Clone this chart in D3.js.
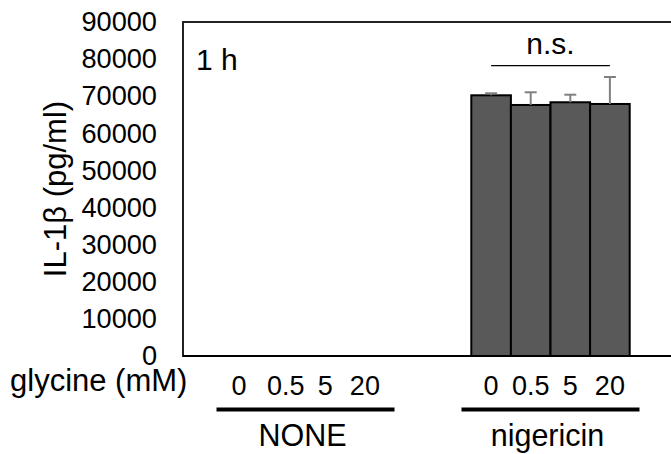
<!DOCTYPE html>
<html>
<head>
<meta charset="utf-8">
<script src="https://cdn.jsdelivr.net/npm/d3@7"></script>
<style>
  html, body { margin: 0; padding: 0; background: #fff; }
  svg { display: block; font-family: Arial, "Liberation Sans", sans-serif; }
</style>
</head>
<body>
<svg id="chart" width="671" height="454"></svg>
<script>
// ---- data ----
const treatments = ["NONE", "nigericin"];
const doses = ["0", "0.5", "5", "20"];
const noneValues = [0, 0, 0, 0];
const noneErrors = [0, 0, 0, 0];
const nigericinValues = [70250, 67640, 68370, 67910];
const nigericinErrors = [540, 3420, 2040, 7270];
const yTicks = [0, 10000, 20000, 30000, 40000, 50000, 60000, 70000, 80000, 90000];
const yTitle = "IL-1β (pg/ml)";
const xTitle = "glycine (mM)";
const timeLabel = "1 h";
const sigLabel = "n.s.";

const rows = [];
treatments.forEach((t, ti) => {
  const vals = ti === 0 ? noneValues : nigericinValues;
  const errs = ti === 0 ? noneErrors : nigericinErrors;
  doses.forEach((d, di) => rows.push({ t, d, v: vals[di], e: errs[di] }));
});

// ---- layout ----
const svg = d3.select("#chart");
const pL = 183, pT = 22, pB = 356, pR = 673;

const y = d3.scaleLinear().domain([0, 90000]).range([pB, pT]);
const x0 = d3.scaleBand().domain(treatments).range([pL, pR])
  .paddingInner(0.3535).paddingOuter(0.17675);
const x1 = d3.scaleBand().domain(doses).range([0, x0.bandwidth()]).padding(0);

// frame
svg.append("rect")
  .attr("x", pL).attr("y", pT)
  .attr("width", pR - pL + 10).attr("height", pB - pT)
  .attr("fill", "none").attr("stroke", "#222").attr("stroke-width", 2);

// y axis labels
const yAxis = d3.axisLeft(y).tickValues(yTicks).tickSize(0).tickPadding(26)
  .tickFormat(d3.format("d"));
const yg = svg.append("g").attr("transform", `translate(${pL},0)`).call(yAxis);
yg.select(".domain").remove();
yg.selectAll("text").attr("font-size", 27.2).attr("fill", "#000")
  .attr("font-family", "Arial, 'Liberation Sans', sans-serif");

// y title
svg.append("text")
  .attr("transform", `translate(66,189) rotate(-90)`)
  .attr("text-anchor", "middle")
  .attr("font-size", 31).attr("fill", "#000")
  .text(yTitle);

// bars
const barG = svg.append("g");
barG.selectAll("rect").data(rows).join("rect")
  .attr("x", d => x0(d.t) + x1(d.d))
  .attr("y", d => y(d.v))
  .attr("width", x1.bandwidth())
  .attr("height", d => pB - y(d.v))
  .attr("fill", "#595959")
  .attr("stroke", d => d.v > 0 ? "#000" : "#ddd")
  .attr("stroke-width", 2);

// error bars (upper only)
const errRows = rows.filter(d => d.e > 0);
const errG = svg.append("g").attr("stroke", "#808080").attr("stroke-width", 2);
errG.selectAll("line.v").data(errRows).join("line").attr("class", "v")
  .attr("x1", d => x0(d.t) + x1(d.d) + x1.bandwidth() / 2)
  .attr("x2", d => x0(d.t) + x1(d.d) + x1.bandwidth() / 2)
  .attr("y1", d => y(d.v)).attr("y2", d => y(d.v + d.e));
errG.selectAll("line.c").data(errRows).join("line").attr("class", "c")
  .attr("x1", d => x0(d.t) + x1(d.d) + x1.bandwidth() / 2 - 6)
  .attr("x2", d => x0(d.t) + x1(d.d) + x1.bandwidth() / 2 + 6)
  .attr("y1", d => y(d.v + d.e)).attr("y2", d => y(d.v + d.e));

// bottom axis line over bars
svg.append("line")
  .attr("x1", pL).attr("x2", 671).attr("y1", pB).attr("y2", pB)
  .attr("stroke", "#000").attr("stroke-width", 2);

// dose labels
treatments.forEach(t => {
  svg.append("g").selectAll("text").data(doses).join("text")
    .attr("x", d => x0(t) + x1(d) + x1.bandwidth() / 2 - (t === "NONE" && d === "0" ? 7 : 0))
    .attr("y", 395)
    .attr("text-anchor", "middle")
    .attr("font-size", 27).attr("fill", "#000")
    .text(d => d);
  const cx = x0(t) + x0.bandwidth() / 2;
  svg.append("line")
    .attr("x1", cx - 89).attr("x2", cx + 89)
    .attr("y1", 409.5).attr("y2", 409.5)
    .attr("stroke", "#000").attr("stroke-width", 4);
  svg.append("text")
    .attr("x", cx - 3).attr("y", 446)
    .attr("text-anchor", "middle")
    .attr("font-size", 30.5).attr("fill", "#000")
    .text(t);
});

// x title
svg.append("text")
  .attr("x", 10).attr("y", 391)
  .attr("font-size", 31).attr("fill", "#000")
  .text(xTitle);

// time label
svg.append("text")
  .attr("x", 196).attr("y", 70)
  .attr("font-size", 30).attr("fill", "#000")
  .text(timeLabel);

// significance
const sx1 = x0("nigericin") + x1("0") + x1.bandwidth() / 2;
const sx2 = x0("nigericin") + x1("20") + x1.bandwidth() / 2;
svg.append("line")
  .attr("x1", sx1).attr("x2", sx2).attr("y1", 65.7).attr("y2", 65.7)
  .attr("stroke", "#000").attr("stroke-width", 1.3);
svg.append("text")
  .attr("x", (sx1 + sx2) / 2).attr("y", 54)
  .attr("text-anchor", "middle")
  .attr("font-size", 30).attr("fill", "#000")
  .text(sigLabel);
</script>
</body>
</html>
